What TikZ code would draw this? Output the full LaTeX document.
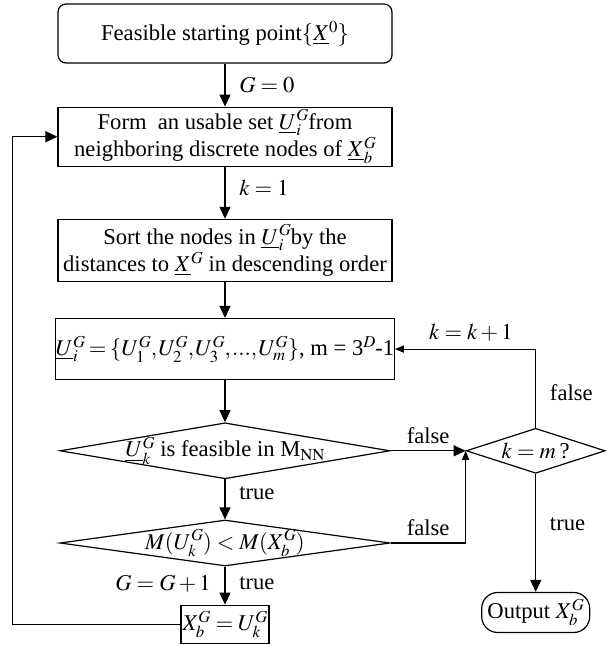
\documentclass[tikz,border=0pt]{standalone}
\usepackage{mathptmx}
\usepackage{fontspec}
\setmainfont{Liberation Serif}
\usetikzlibrary{arrows.meta,positioning,shapes.geometric}
\scriptspace=0pt
\tikzset{
startbox/.style={rectangle,rounded corners=4pt,draw,line width=0.6pt,minimum width=167pt,minimum height=29.5pt,align=center},
procbox/.style={rectangle,draw,line width=0.6pt,minimum width=167pt,minimum height=30pt,align=center,inner sep=1pt},
testbox/.style={diamond,draw,line width=0.6pt,aspect=5.9,minimum width=165pt,minimum height=28pt,inner xsep=-3pt,inner ysep=-1pt},
endbox/.style={rectangle,rounded corners=8pt,draw,line width=0.6pt,minimum width=54pt,minimum height=20pt,inner sep=1pt},
arrow/.style={-{Triangle[length=6pt,width=5.5pt]},line width=0.6pt},
smallarrow/.style={-{Triangle[length=4.5pt,width=3.5pt]},line width=0.6pt}
}
\begin{document}
\begin{tikzpicture}[node distance=21.5pt,font=\fontsize{11.3}{13.6}\selectfont]
\useasboundingbox (-112.5pt,16.75pt) rectangle (192.5pt,-306.25pt);
\node[startbox] (start) at (0,0) {Feasible starting point$\{\underline{X}^{0}\}$};
\node[procbox,below=21.5pt of start,minimum height=29.5pt] (form) {Form\ \ an usable set $\underline{U}_i^G$from\\neighboring discrete nodes of $\underline{X}_b^G$};
\node[procbox,below=26pt of form,minimum height=31pt] (sort) {Sort the nodes in $\underline{U}_i^G$by the\\distances to $\underline{X}^G$ in descending order};
\node[procbox,below=18pt of sort,minimum height=30.5pt,inner sep=0pt] (subset) {\thinmuskip=1mu\thickmuskip=3mu$\underline{U}_i^G=\{U_1^G, U_2^G, U_3^G, ..., U_m^G\}$, m = 3$^D$-1};
\node[testbox,below=21pt of subset] (feasible) {$\underline{U}_k^G$ is feasible in M$_{\mathrm{NN}}$};
\node[testbox,below=20pt of feasible,aspect=7.2,minimum height=23pt] (better) {$M(U_k^G)<M(X_b^G)$};
\node[procbox,below=19pt of better,minimum width=44pt,minimum height=19pt,inner sep=0.5pt] (update) {$X_b^G=U_k^G$};
\node[testbox,right=37.5pt of feasible,aspect=3.1,minimum width=69.5pt,minimum height=22.5pt] (last) {$k=m$\,?};
\node[endbox,below=59pt of last] (output) {Output $X_b^G$};
\draw[arrow] (start) -- node[right=3.5pt] {$G=0$} (form);
\draw[arrow] (form) -- node[right=3.5pt,pos=0.4] {$k=1$} (sort);
\draw[arrow] (sort) -- (subset);
\draw[arrow] (subset) -- (feasible);
\draw[arrow] (feasible) -- node[right=3.5pt,pos=0.34] {true} (better);
\draw[arrow] (better) -- node[right=3.5pt,pos=0.45] {true} node[left=3.5pt,pos=0.45] {$G=G+1$} (update);
\draw[arrow] (update.west) -- ++(-84pt,0) |- (form.west);
\draw[arrow] (feasible.east) -- node[above] {false} (last.west);
\draw[smallarrow] (better.east) -| node[above,pos=0.25] {false} (last.west);
\draw[smallarrow] (last.north) |- node[right=3.5pt,pos=0.22] {false} node[above,pos=0.73] {$k=k+1$} (subset.east);
\draw[arrow] (last.south) -- node[right=3.5pt,pos=0.43] {true} (output);
\end{tikzpicture}
\end{document}
